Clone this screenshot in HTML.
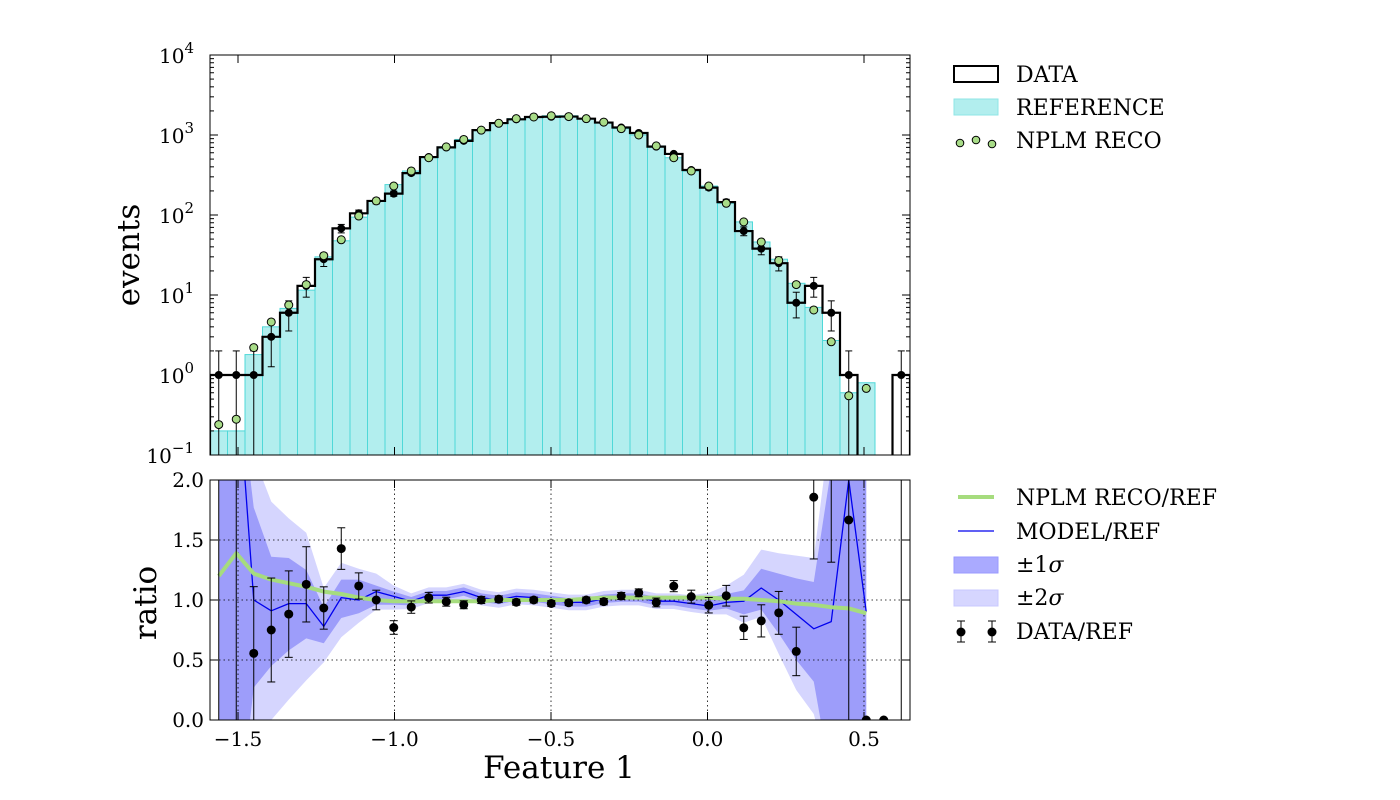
<!DOCTYPE html>
<html><head><meta charset="utf-8"><style>
html,body{margin:0;padding:0;background:#fff;}
svg{display:block;font-family:"DejaVu Serif","Liberation Serif",serif;}
</style></head><body>
<svg id="chart" width="1400" height="800" viewBox="0 0 1400 800" xmlns="http://www.w3.org/2000/svg">
<defs>
<clipPath id="clipTop"><rect x="210" y="55" width="700" height="400"/></clipPath>
<clipPath id="clipBot"><rect x="210" y="480" width="700" height="240"/></clipPath>
</defs>
<g id="topPanel"></g>
<g id="botPanel"></g>
<g id="legendG"></g>
</svg>
<script>
const xMin = -1.5895, xMax = 0.647, nBins = 40;
const dataCounts = [1,1,1,3,6,13,28,68,105,150,185,334,530,700,845,1150,1410,1570,1680,1690,1700,1600,1430,1240,1060,715,580,365,220,145,63,38,25,8,13,6,1,0,0,1];
const refCounts = [0.2,0.2,1.8,4,6.8,11.5,30,47.6,94,150,240,355,520,710,880,1150,1400,1600,1680,1740,1740,1600,1450,1200,1000,730,520,355,230,140,82,46,28,14,7,2.7,0.6,0.8,0,0];
const nplmCounts = [0.24,0.28,2.2,4.6,7.5,13.5,31,49,97,150,230,355,520,710,880,1150,1400,1600,1680,1740,1700,1600,1450,1200,1000,730,520,355,230,140,82,46,27,13.5,6.5,2.6,0.55,0.68,null,null];
const nplmRatio = [1.2,1.39,1.22,1.17,1.14,1.11,1.07,1.05,1.02,1.0,0.99,0.99,0.99,0.99,0.99,0.99,1.0,1.0,1.0,1.0,1.0,1.01,1.02,1.02,1.02,1.02,1.02,1.02,1.02,1.01,1.01,1.0,0.99,0.97,0.96,0.94,0.93,0.89];
const modelRatio = [3,3,1.0,0.91,0.97,0.97,0.78,1.02,1.0,1.07,1.03,0.99,1.04,1.04,1.07,1.02,1.0,1.03,1.02,1.0,0.98,0.98,1.01,1.02,1.02,0.99,0.99,0.97,0.95,0.98,0.99,1.1,1.0,0.88,0.76,0.82,2.0,0.9];
const lo1 = [-1,-1,0.27,0.45,0.58,0.68,0.64,0.85,0.89,0.96,0.96,0.955,1.005,1.005,1.035,0.985,0.965,0.995,0.985,0.965,0.945,0.945,0.975,0.985,0.985,0.955,0.955,0.93,0.91,0.93,0.88,0.92,0.72,0.5,0.32,-0.5,-1,-1];
const hi1 = [3,3,1.77,1.36,1.35,1.25,0.94,1.17,1.17,1.12,1.07,1.025,1.075,1.075,1.105,1.055,1.035,1.065,1.055,1.035,1.015,1.015,1.045,1.055,1.055,1.025,1.025,1.01,1.02,1.05,1.08,1.26,1.22,1.18,1.15,2.1,3,3];
const lo2 = [-1,-1,-0.5,0.0,0.17,0.33,0.48,0.69,0.81,0.92,0.92,0.925,0.975,0.975,1.005,0.955,0.935,0.965,0.955,0.935,0.915,0.915,0.945,0.955,0.955,0.925,0.925,0.9,0.88,0.88,0.81,0.86,0.55,0.25,0.05,-0.5,-1,-1];
const hi2 = [3,3,2.2,1.82,1.68,1.56,1.10,1.31,1.26,1.22,1.12,1.055,1.105,1.105,1.135,1.085,1.065,1.095,1.085,1.065,1.045,1.045,1.075,1.085,1.085,1.055,1.055,1.04,1.06,1.12,1.21,1.42,1.39,1.37,1.35,2.5,3,3];
const xTicks = [-1.5,-1.0,-0.5,0.0,0.5];
const xTickLabels = ["\u22121.5","\u22121.0","\u22120.5","0.0","0.5"];
const yTopExps = [-1,0,1,2,3,4];
const yBotTicks = [0.0,0.5,1.0,1.5,2.0];
const yBotLabels = ["0.0","0.5","1.0","1.5","2.0"];

const NS = "http://www.w3.org/2000/svg";
const L = 210, R = 910, T1 = 55, B1 = 455, T2 = 480, B2 = 720;
const bw = (xMax - xMin) / nBins;
const X = v => L + (v - xMin) / (xMax - xMin) * (R - L);
const Yt = v => B1 - (Math.log10(v) + 1) / 5 * (B1 - T1);
const Yb = v => B2 - v / 2 * (B2 - T2);
const edge = i => xMin + i * bw;
const cen = i => xMin + (i + 0.5) * bw;
function mk(parent, tag, attrs, text) {
  const e = document.createElementNS(NS, tag);
  for (const k in attrs) e.setAttribute(k, attrs[k]);
  if (text !== undefined) e.textContent = text;
  parent.appendChild(e);
  return e;
}
const topG = document.getElementById('topPanel');
const botG = document.getElementById('botPanel');
const legG = document.getElementById('legendG');

// ---------- top panel ----------
const topClip = mk(topG, 'g', {'clip-path': 'url(#clipTop)'});


refCounts.forEach((v, i) => {
  if (v <= 0) return;
  const r = mk(topClip, 'rect', {x: X(edge(i)), y: Yt(v), width: X(edge(i+1)) - X(edge(i)), height: B1 + 5 - Yt(v), fill: '#b2eeee', stroke: '#4fd8d8', 'stroke-width': 1});
  
  
});
let d = '';
const yOf = v => v > 0 ? Yt(v) : B1 + 10;
for (let i = 0; i < nBins; i++) {
  const y = yOf(dataCounts[i]);
  if (i === 0) d += `M${X(edge(0))},${B1 + 10} L${X(edge(0))},${y}`;
  else d += ` L${X(edge(i))},${y}`;
  d += ` L${X(edge(i+1))},${y}`;
}
d += ` L${X(edge(nBins))},${B1 + 10}`;
const stepPath = mk(topClip, 'path', {d: d, fill: 'none', stroke: '#000', 'stroke-width': 2.2});


dataCounts.forEach((v, i) => {
  if (v <= 0) return;
  const e = Math.sqrt(v);
  const cx = X(cen(i));
  const yh = Yt(v + e), yl = (v - e) > 0 ? Yt(v - e) : B1 + 10;
  const g = mk(topClip, 'g', {});
  
  
  mk(g, 'line', {x1: cx, x2: cx, y1: yh, y2: yl, stroke: '#000', 'stroke-width': 1});
  mk(g, 'line', {x1: cx - 3.5, x2: cx + 3.5, y1: yh, y2: yh, stroke: '#000', 'stroke-width': 1});
  if ((v - e) > 0) mk(g, 'line', {x1: cx - 3.5, x2: cx + 3.5, y1: yl, y2: yl, stroke: '#000', 'stroke-width': 1});
  mk(g, 'circle', {cx: cx, cy: Yt(v), r: 4, fill: '#000'});
});
nplmCounts.forEach((v, i) => {
  if (v === null || v <= 0) return;
  const c = mk(topClip, 'circle', {cx: X(cen(i)), cy: Yt(v), r: 4, fill: '#a8dc88', stroke: '#000', 'stroke-width': 1});
  
  
});
const tf = mk(topG, 'rect', {x: L, y: T1, width: R - L, height: B1 - T1, fill: 'none', stroke: '#000', 'stroke-width': 1});


yTopExps.forEach(ex => {
  const y = Yt(Math.pow(10, ex));
  mk(topG, 'line', {x1: L, x2: L + 8, y1: y, y2: y, stroke: '#000'});
  mk(topG, 'line', {x1: R, x2: R - 8, y1: y, y2: y, stroke: '#000'});
  const t = mk(topG, 'text', {x: 194, y: y + 8, 'text-anchor': 'end', 'font-size': 20});
  
  
  t.textContent = '10';
  mk(t, 'tspan', {dy: -10, 'font-size': 15}, String(ex < 0 ? '\u2212' + (-ex) : ex));
  if (ex < 4) for (let m = 2; m < 10; m++) {
    const ym = Yt(m * Math.pow(10, ex));
    mk(topG, 'line', {x1: L, x2: L + 4, y1: ym, y2: ym, stroke: '#000'});
    mk(topG, 'line', {x1: R, x2: R - 4, y1: ym, y2: ym, stroke: '#000'});
  }
});
xTicks.forEach(v => {
  const x = X(v);
  mk(topG, 'line', {x1: x, x2: x, y1: B1, y2: B1 - 8, stroke: '#000'});
  mk(topG, 'line', {x1: x, x2: x, y1: T1, y2: T1 + 8, stroke: '#000'});
});
const yl1 = mk(topG, 'text', {x: 0, y: 0, transform: 'translate(139,255) rotate(-90)', 'text-anchor': 'middle', 'font-size': 31}, 'events');



// ---------- bottom panel ----------
const botClip = mk(botG, 'g', {'clip-path': 'url(#clipBot)'});


function band(lo, hi, fill, name) {
  let p = '';
  for (let i = 0; i < lo.length; i++) p += (i ? ' L' : 'M') + X(cen(i)) + ',' + Yb(hi[i]);
  for (let i = lo.length - 1; i >= 0; i--) p += ' L' + X(cen(i)) + ',' + Yb(lo[i]);
  p += ' Z';
  const e = mk(botClip, 'path', {d: p, fill: fill, stroke: 'none'});
  
  
}
band(lo2, hi2, '#d5d5fe', 'band-2sigma');
band(lo1, hi1, '#9d9dfa', 'band-1sigma');
const grid = mk(botClip, 'g', {stroke: '#000', 'stroke-width': 0.8, 'stroke-dasharray': '1.5,3'});


xTicks.forEach(v => mk(grid, 'line', {x1: X(v), x2: X(v), y1: T2, y2: B2}));
yBotTicks.forEach(v => mk(grid, 'line', {x1: L, x2: R, y1: Yb(v), y2: Yb(v)}));
function seriesLine(arr, stroke, w, name) {
  let p = '';
  arr.forEach((v, i) => p += (i ? ' L' : 'M') + X(cen(i)) + ',' + Yb(v));
  const e = mk(botClip, 'path', {d: p, fill: 'none', stroke: stroke, 'stroke-width': w, 'stroke-linejoin': 'round'});
  
  
}
seriesLine(modelRatio, '#0000ee', 1.3, 'model-ratio-line');
seriesLine(nplmRatio, '#a6dc7e', 4, 'nplm-ratio-line');
dataCounts.forEach((v, i) => {
  const ref = refCounts[i];
  const cx = X(cen(i));
  const g = mk(botClip, 'g', {});
  
  
  if (ref <= 0) {
    if (v > 0) mk(g, 'line', {x1: cx, x2: cx, y1: T2 - 5, y2: B2 + 5, stroke: '#000', 'stroke-width': 1});
    else mk(g, 'circle', {cx: cx, cy: Yb(0), r: 4.5, fill: '#000'});
    return;
  }
  const r = v / ref, e = Math.sqrt(v) / ref;
  if (e > 0) {
    mk(g, 'line', {x1: cx, x2: cx, y1: Yb(r + e), y2: Yb(r - e), stroke: '#000', 'stroke-width': 1});
    mk(g, 'line', {x1: cx - 4, x2: cx + 4, y1: Yb(r + e), y2: Yb(r + e), stroke: '#000', 'stroke-width': 1});
    mk(g, 'line', {x1: cx - 4, x2: cx + 4, y1: Yb(r - e), y2: Yb(r - e), stroke: '#000', 'stroke-width': 1});
  }
  mk(g, 'circle', {cx: cx, cy: Yb(r), r: 4.5, fill: '#000'});
});
const bf = mk(botG, 'rect', {x: L, y: T2, width: R - L, height: B2 - T2, fill: 'none', stroke: '#000', 'stroke-width': 1});


yBotTicks.forEach((v, k) => {
  const y = Yb(v);
  mk(botG, 'line', {x1: L, x2: L + 8, y1: y, y2: y, stroke: '#000'});
  mk(botG, 'line', {x1: R, x2: R - 8, y1: y, y2: y, stroke: '#000'});
  const t = mk(botG, 'text', {x: 204, y: y + 7, 'text-anchor': 'end', 'font-size': 20}, yBotLabels[k]);
  
  
});
xTicks.forEach((v, k) => {
  const x = X(v);
  mk(botG, 'line', {x1: x, x2: x, y1: B2, y2: B2 - 8, stroke: '#000'});
  mk(botG, 'line', {x1: x, x2: x, y1: T2, y2: T2 + 8, stroke: '#000'});
  const t = mk(botG, 'text', {x: x, y: 746, 'text-anchor': 'middle', 'font-size': 20}, xTickLabels[k]);
  
  
});
const yl2 = mk(botG, 'text', {x: 0, y: 0, transform: 'translate(156,603) rotate(-90)', 'text-anchor': 'middle', 'font-size': 31}, 'ratio');


const xl = mk(botG, 'text', {x: 559, y: 778, 'text-anchor': 'middle', 'font-size': 31}, 'Feature 1');



// ---------- legends ----------
function legText(y, s, name) {
  const t = mk(legG, 'text', {x: 1016, y: y + 8, 'font-size': 22}, s);
  
  
  return t;
}
mk(legG, 'rect', {x: 954, y: 66, width: 44, height: 16, fill: '#fff', stroke: '#000', 'stroke-width': 2});
legText(74, 'DATA', 'legend-data');
mk(legG, 'rect', {x: 954, y: 99, width: 44, height: 16, fill: '#b2eeee', stroke: '#8fe6e6', 'stroke-width': 1});
legText(107, 'REFERENCE', 'legend-reference');
[[960,143],[976,140],[992,144]].forEach(p => mk(legG, 'circle', {cx: p[0], cy: p[1], r: 3.8, fill: '#a8dc88', stroke: '#000', 'stroke-width': 1}));
legText(140, 'NPLM RECO', 'legend-nplm-reco');
mk(legG, 'line', {x1: 958, x2: 994, y1: 497, y2: 497, stroke: '#a6dc7e', 'stroke-width': 4});
legText(497, 'NPLM RECO/REF', 'legend-nplm-ratio');
mk(legG, 'line', {x1: 958, x2: 994, y1: 531, y2: 531, stroke: '#0000ee', 'stroke-width': 1.3});
legText(531, 'MODEL/REF', 'legend-model-ratio');
mk(legG, 'rect', {x: 954, y: 557, width: 44, height: 16, fill: '#aaaaff', stroke: '#9999ff', 'stroke-width': 1});
const s1 = legText(564, '\u00b11', 'legend-1sigma');
mk(s1, 'tspan', {'font-style': 'italic'}, '\u03c3');
mk(legG, 'rect', {x: 954, y: 590, width: 44, height: 16, fill: '#d6d6ff', stroke: '#c8c8ff', 'stroke-width': 1});
const s2 = legText(597, '\u00b12', 'legend-2sigma');
mk(s2, 'tspan', {'font-style': 'italic'}, '\u03c3');
[961, 992].forEach(x => {
  mk(legG, 'line', {x1: x, x2: x, y1: 621, y2: 642, stroke: '#000'});
  mk(legG, 'line', {x1: x - 4, x2: x + 4, y1: 621, y2: 621, stroke: '#000'});
  mk(legG, 'line', {x1: x - 4, x2: x + 4, y1: 642, y2: 642, stroke: '#000'});
  mk(legG, 'circle', {cx: x, cy: 632, r: 4.5, fill: '#000'});
});
legText(631, 'DATA/REF', 'legend-data-ratio');
</script>
</body></html>
